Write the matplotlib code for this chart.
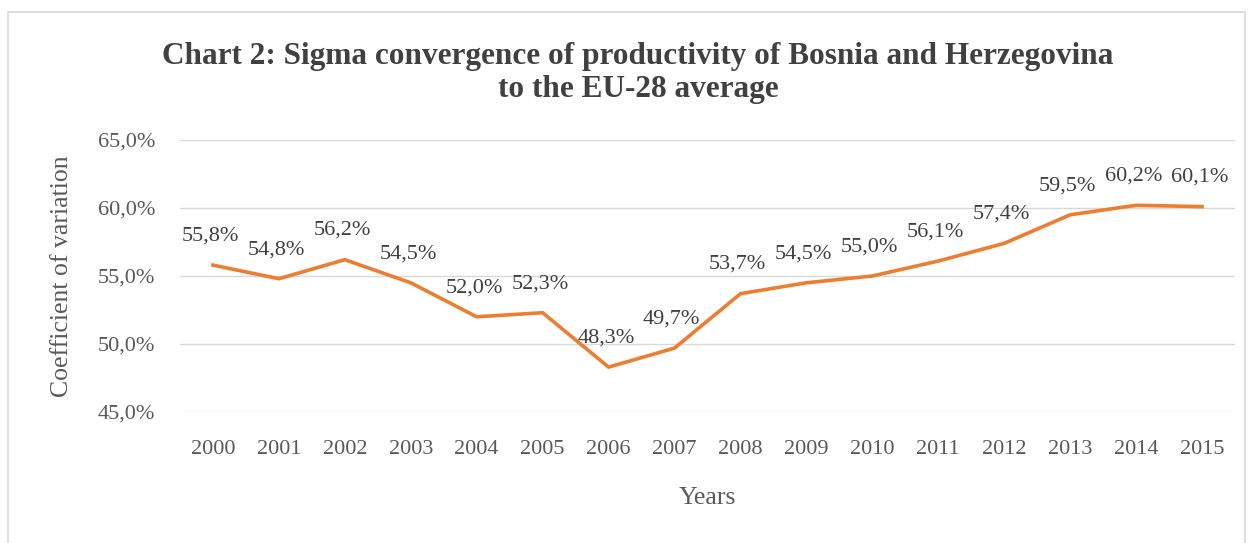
import matplotlib.pyplot as plt
from matplotlib.patches import Rectangle
from matplotlib.ticker import FuncFormatter

years = ["2000", "2001", "2002", "2003", "2004", "2005", "2006", "2007",
         "2008", "2009", "2010", "2011", "2012", "2013", "2014", "2015"]
cv = [55.8, 54.8, 56.2, 54.5, 52.0, 52.3, 48.3, 49.7,
      53.7, 54.5, 55.0, 56.1, 57.4, 59.5, 60.2, 60.1]
yticks = [45, 50, 55, 60, 65]

plt.rcParams['font.family'] = ['Liberation Serif', 'DejaVu Serif']
grey = '#595959'

fig = plt.figure(figsize=(12.55, 5.43), dpi=100)
fig.patches.append(Rectangle((8 / 1255, -0.05), 1237 / 1255, 1.05 - 12 / 543,
                             transform=fig.transFigure, fill=False,
                             edgecolor='#D9D9D9', linewidth=1.2))

ax = fig.add_axes([180 / 1255, 1 - 412 / 543, 1055 / 1255, 272 / 543])
x = list(range(len(years)))
ax.plot(x, cv, color='#ED7D31', linewidth=2.6, solid_joinstyle='miter')

for xi, v in zip(x, cv):
    ax.annotate(f"{v:.1f}%".replace('.', ','), (xi, v), xytext=(-2, 21),
                textcoords='offset points', ha='center', va='center',
                fontsize=16, color='#404040')

ax.set_xlim(-0.5, len(years) - 0.5)
ax.set_ylim(45, 65)
ax.set_yticks(yticks)
ax.yaxis.set_major_formatter(FuncFormatter(lambda v, p: f"{v:.1f}%".replace('.', ',')))
ax.set_xticks(x)
ax.set_xticklabels(years)
ax.tick_params(axis='both', length=0, labelsize=16, labelcolor=grey)
ax.tick_params(axis='y', pad=18)
ax.tick_params(axis='x', pad=20)
ax.grid(axis='y', color='#D9D9D9', linewidth=1)
for s in ax.spines.values():
    s.set_visible(False)

ax.set_ylabel("Coefficient of variation", fontsize=18.5, color=grey, labelpad=18)
ax.set_xlabel("Years", fontsize=18.5, color=grey, labelpad=20)

fig.text(638 / 1255, 1 - 73 / 543,
         "Chart 2: Sigma convergence of productivity of Bosnia and Herzegovina\nto the EU-28 average",
         ha='center', va='center', fontsize=22.5, fontweight='bold', color='#404040',
         linespacing=1.15)

fig.savefig("out.png", dpi=100)
